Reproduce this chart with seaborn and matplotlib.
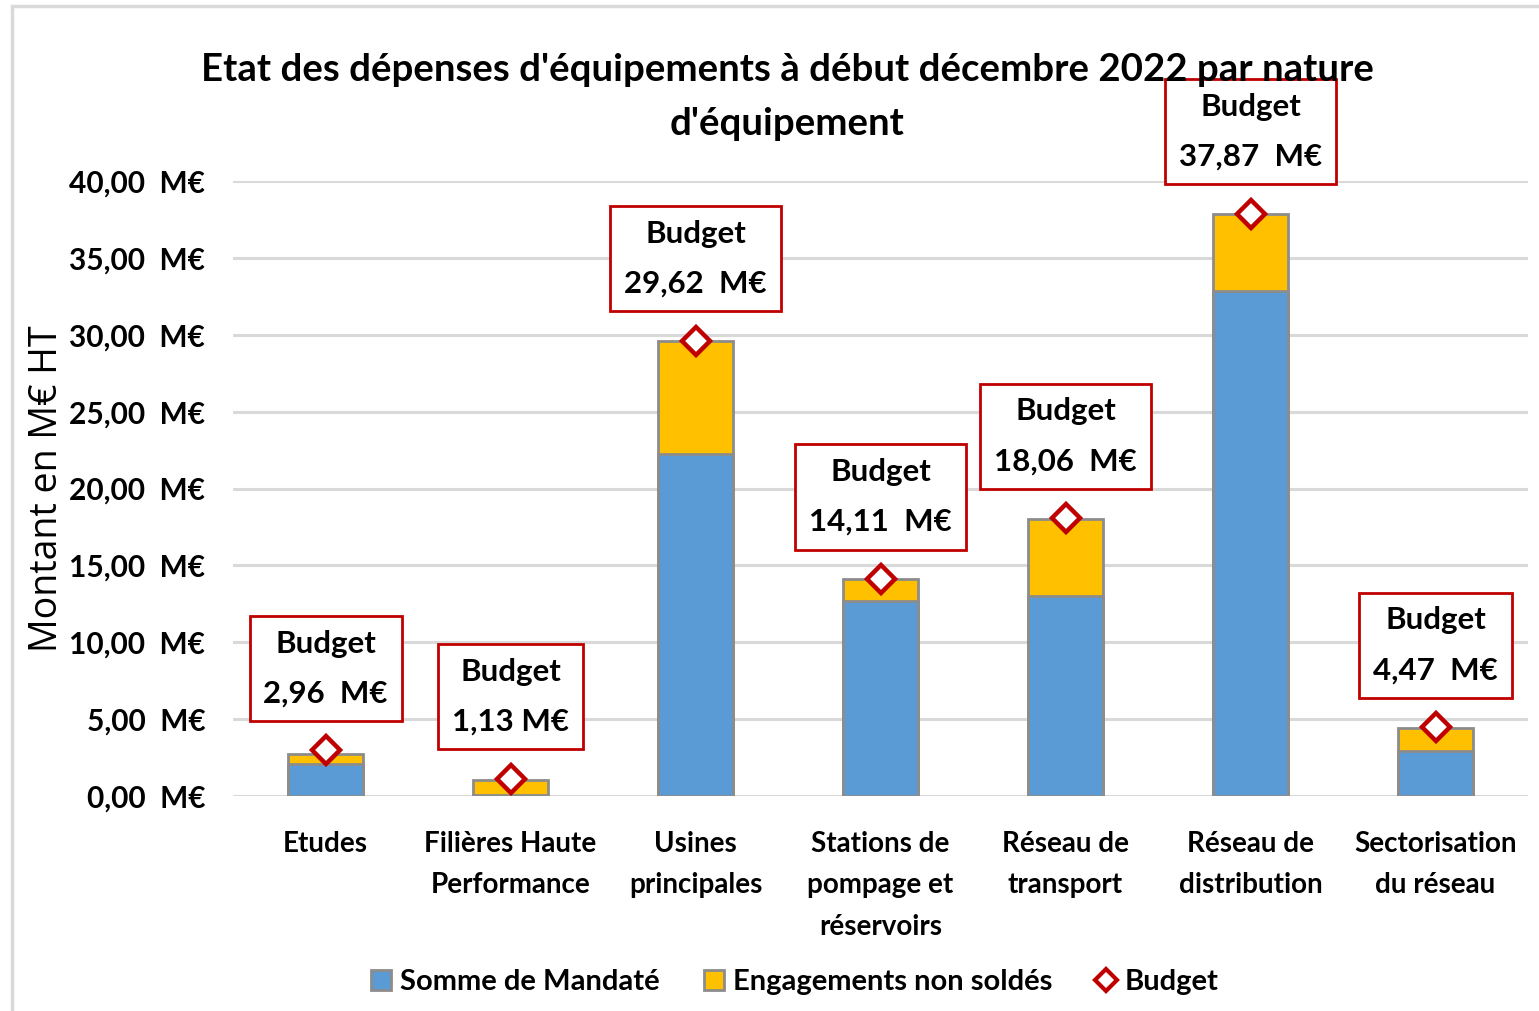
import matplotlib
matplotlib.use("Agg")
import matplotlib.pyplot as plt
import pandas as pd
import seaborn as sns
from matplotlib.lines import Line2D
from matplotlib.patches import Patch, Rectangle

categories = [
    "Etudes",
    "Filières Haute\nPerformance",
    "Usines\nprincipales",
    "Stations de\npompage et\nréservoirs",
    "Réseau de\ntransport",
    "Réseau de\ndistribution",
    "Sectorisation\ndu réseau",
]
mandate = [2.07, 0.05, 22.23, 12.70, 13.04, 32.87, 2.93]
engagements = [0.69, 1.00, 7.39, 1.40, 4.95, 5.00, 1.52]
budget = [2.96, 1.13, 29.62, 14.11, 18.06, 37.87, 4.47]
budget_labels = ["2,96  M€", "1,13 M€", "29,62  M€", "14,11  M€",
                 "18,06  M€", "37,87  M€", "4,47  M€"]
yticks = [0, 5, 10, 15, 20, 25, 30, 35, 40]
ytick_labels = ["0,00  M€", "5,00  M€", "10,00  M€", "15,00  M€", "20,00  M€",
                "25,00  M€", "30,00  M€", "35,00  M€", "40,00  M€"]

BLUE = "#5B9BD5"
YELLOW = "#FFC000"
EDGE = "#8C8C8C"
RED = "#C00000"

df = pd.DataFrame({
    "categorie": categories,
    "mandate": mandate,
    "total": [m + e for m, e in zip(mandate, engagements)],
    "budget": budget,
})

sns.set_style("white")
plt.rcParams["font.family"] = ["Lato", "DejaVu Sans"]
plt.rcParams["font.weight"] = "bold"
plt.rcParams["text.color"] = "black"
plt.rcParams["xtick.color"] = "black"
plt.rcParams["ytick.color"] = "black"
plt.rcParams["axes.labelcolor"] = "black"

fig = plt.figure(figsize=(15.39, 10.11), dpi=100)
ax = fig.add_axes([233 / 1539, 1 - 796 / 1011, 1295 / 1539, 615 / 1011])

# frame of the chart area
fig.patches.append(Rectangle((12 / 1539, -0.05), 1.1, 1 - 6 / 1011 + 0.05,
                             transform=fig.transFigure, fill=False,
                             edgecolor="#D9D9D9", linewidth=2.5))

sns.barplot(data=df, x="categorie", y="total", color=YELLOW, width=0.405,
            edgecolor=EDGE, linewidth=2, saturation=1, ax=ax, zorder=2)
sns.barplot(data=df, x="categorie", y="mandate", color=BLUE, width=0.405,
            edgecolor=EDGE, linewidth=2, saturation=1, ax=ax, zorder=3)
ax.plot(range(len(categories)), df["budget"], linestyle="none", marker="D",
        markersize=14, markerfacecolor="white", markeredgecolor=RED,
        markeredgewidth=3.2, zorder=5)

for i, (b, lab) in enumerate(zip(budget, budget_labels)):
    ax.annotate(f"Budget\n{lab}", xy=(i, b), xytext=(0, 31),
                textcoords="offset points", ha="center", va="bottom",
                fontsize=22.5, fontweight="bold", linespacing=1.95,
                annotation_clip=False, zorder=6,
                bbox=dict(boxstyle="square,pad=0.44", facecolor="white",
                          edgecolor=RED, linewidth=2))

ax.set_xlim(-0.5, 6.5)
ax.set_ylim(0, 40)
ax.set_yticks(yticks)
ax.set_yticklabels(ytick_labels, fontsize=21.5, fontweight="bold")
ax.set_xticks(range(len(categories)))
ax.set_xticklabels(categories, fontsize=20, fontweight="bold", linespacing=1.75)
ax.tick_params(axis="y", length=0, pad=20)
ax.tick_params(axis="x", length=0, pad=25)
ax.yaxis.grid(True, color="#D9D9D9", linewidth=2.2, zorder=0)
ax.set_axisbelow(True)
ax.set_xlabel("")
ax.set_ylabel("Montant en M€ HT", fontsize=27, fontweight="normal",
              family=["Open Sans", "DejaVu Sans"])
ax.yaxis.set_label_coords(-0.129, 0.5)
sns.despine(ax=ax, left=True, bottom=True)

fig.text(787 / 1539, 1 - 97 / 1011,
         "Etat des dépenses d'équipements à début décembre 2022 par nature\nd'équipement",
         ha="center", va="center", fontsize=27.6, fontweight="bold", linespacing=1.72)

handles = [
    Patch(facecolor=BLUE, edgecolor=EDGE, linewidth=2, label="Somme de Mandaté"),
    Patch(facecolor=YELLOW, edgecolor=EDGE, linewidth=2, label="Engagements non soldés"),
    Line2D([], [], linestyle="none", marker="D", markersize=11,
           markerfacecolor="white", markeredgecolor=RED, markeredgewidth=3,
           label="Budget"),
]
fig.legend(handles=handles, loc="center", ncol=3, frameon=False,
           bbox_to_anchor=(795 / 1539, 1 - 982 / 1011), fontsize=21,
           handlelength=0.7, handleheight=0.7, handletextpad=0.3,
           columnspacing=1.5)

fig.savefig("out.png", dpi=100)
